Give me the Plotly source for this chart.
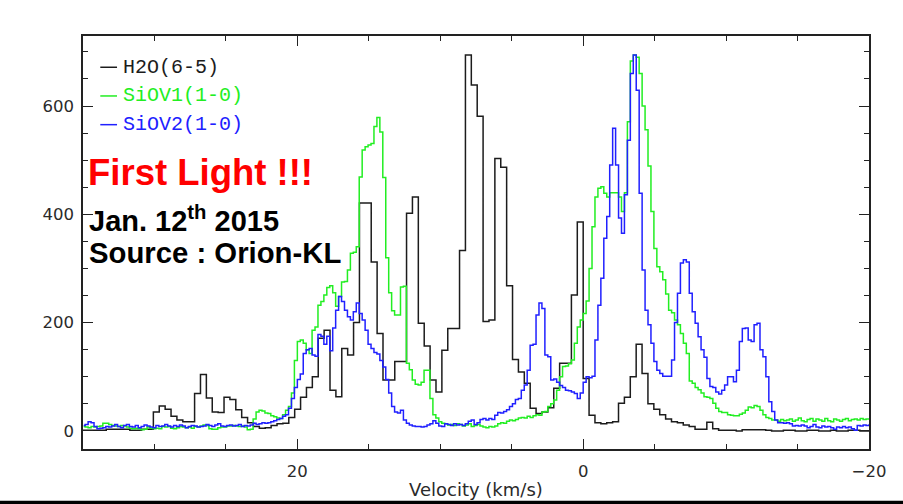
import numpy as np
import plotly.graph_objects as go

# ---------------------------------------------------------------------------
# Orion-KL spectra, 12 Jan 2015. Antenna temperature per channel, listed from
# the highest velocity channel to the lowest.
# ---------------------------------------------------------------------------

# H2O 22 GHz line: 0.412 km/s channels, first channel centred at +35.226 km/s
h2o_vel_start = 35.226
h2o_chan_width = 0.412
h2o_flux = [
    1, 1, 1, 1, 1, 3, 3, 3, 3, 1, 1, 3, 3,
    35, 46, 40, 27, 20, 17, 17, 69, 104, 61,
    35, 34, 62, 58, 39, 25, 15, 8, 5, 6,
    10, 13, 14, 25, 40, 62, 80, 100, 171, 186,
    75, 63, 152, 140, 200, 421, 421, 312, 180, 94,
    94, 128, 128, 402, 432, 199, 157, 94, 72, 149,
    189, 189, 333, 694, 639, 581, 202, 205, 503, 487,
    268, 132, 109, 88, 42, 32, 35, 43, 79, 125,
    125, 251, 386, 97, 29, 15, 13, 15, 17, 51,
    62, 100, 160, 106, 50, 40, 30, 22, 17, 15,
    11, 8, 3, 3, 16, 4, 1, 1, 1, 0,
    2, 2, 2, 2, 1, 0, 0, 1, 1, 0,
    0, 1, 1, 0, 0, 1, 0, 0, 1, 1, 0, 0, 1,
]

# SiO 43 GHz lines: 0.2062 km/s channels, first channel centred at +34.951 km/s
sio_vel_start = 34.951
sio_chan_width = 0.2062
siov1_flux = [
    8, 7, 6, 8, 7, 8, 9, 14, 14, 12,
    10, 9, 8, 10, 9, 7, 5, 4, 5, 4,
    2, 3, 7, 5, 4, 5, 4, 8, 7, 8,
    5, 4, 6, 8, 7, 6, 7, 5, 8, 7,
    9, 11, 10, 4, 3, 3, 6, 7, 7, 9,
    9, 10, 9, 8, 9, 7, 2, 3, 22, 35,
    38, 37, 33, 32, 28, 26, 24, 23, 30, 38,
    45, 70, 130, 165, 168, 162, 150, 143, 186, 192,
    232, 239, 251, 265, 268, 255, 230, 248, 275, 276,
    297, 328, 330, 340, 469, 519, 525, 528, 531, 562,
    579, 552, 468, 320, 255, 222, 214, 214, 266, 267,
    125, 113, 94, 86, 85, 90, 112, 112, 60, 30,
    24, 17, 14, 13, 11, 12, 10, 13, 12, 9,
    11, 13, 8, 10, 12, 9, 7, 6, 8, 7,
    9, 13, 15, 14, 18, 20, 19, 21, 24, 25,
    24, 27, 25, 28, 30, 29, 35, 36, 45, 50,
    57, 75, 100, 119, 120, 124, 131, 162, 192, 205,
    217, 240, 300, 377, 432, 448, 451, 439, 432, 440,
    440, 440, 432, 405, 440, 571, 683, 694, 690, 660,
    600, 556, 489, 405, 337, 303, 294, 279, 253, 223,
    218, 205, 196, 180, 162, 143, 92, 88, 80, 76,
    70, 63, 62, 60, 51, 42, 36, 34, 34, 30,
    29, 28, 28, 31, 33, 38, 44, 43, 47, 45,
    38, 30, 25, 23, 20, 20, 18, 21, 19, 20,
    22, 18, 20, 24, 19, 17, 21, 23, 18, 22,
    20, 18, 23, 19, 17, 22, 20, 18, 21, 23,
    19, 21, 22, 20, 23, 21, 22, 22,
]
siov2_flux = [
    10, 12, 17, 15, 8, 4, 5, 6, 8, 7,
    9, 12, 8, 6, 10, 12, 8, 7, 10, 6,
    8, 11, 9, 7, 6, 10, 8, 9, 12, 9,
    7, 10, 8, 11, 9, 6, 8, 10, 9, 7,
    8, 9, 12, 10, 8, 11, 13, 9, 8, 10,
    11, 9, 10, 12, 8, 10, 9, 11, 14, 12,
    13, 15, 14, 15, 17, 19, 21, 23, 27, 30,
    42, 60, 80, 95, 105, 143, 150, 152, 140, 138,
    178, 175, 160, 175, 148, 190, 223, 248, 239, 223,
    211, 205, 220, 236, 217, 205, 186, 160, 152, 145,
    142, 130, 118, 95, 70, 45, 35, 33, 38, 20,
    14, 11, 9, 8, 8, 7, 8, 11, 13, 19,
    14, 9, 8, 13, 12, 10, 13, 11, 12, 10,
    13, 18, 20, 12, 15, 21, 23, 20, 23, 21,
    29, 34, 33, 36, 39, 45, 50, 58, 60, 75,
    85, 112, 158, 160, 214, 236, 226, 140, 137, 94,
    96, 90, 84, 80, 75, 74, 72, 69, 60, 70,
    90, 100, 98, 101, 168, 232, 282, 356, 396, 491,
    559, 491, 393, 365, 436, 537, 660, 694, 629, 439,
    297, 223, 196, 162, 128, 112, 106, 101, 101, 101,
    131, 200, 254, 310, 316, 312, 254, 220, 199, 174,
    150, 136, 97, 82, 80, 72, 68, 75, 85, 100,
    100, 91, 112, 165, 189, 190, 168, 165, 196, 199,
    150, 137, 100, 54, 36, 20, 15, 15, 14, 15,
    13, 9, 10, 9, 11, 9, 6, 8, 12, 7,
    6, 9, 7, 8, 6, 3, 7, 6, 8, 6,
    7, 4, 1, 10, 9, 11, 10, 11,
]

series_names = ["H2O(6-5)", "SiOV1(1-0)", "SiOV2(1-0)"]
x_tick_vals = [20, 0, -20]
y_tick_vals = [0, 200, 400, 600]
x_title = "Velocity (km/s)"
headline = "First Light !!!"
date_line = "Jan. 12<sup>th</sup> 2015"
source_line = "Source : Orion-KL"

# channel-centre velocity axes
h2o_vel = h2o_vel_start - h2o_chan_width * np.arange(len(h2o_flux))
sio_vel = sio_vel_start - sio_chan_width * np.arange(len(siov1_flux))

colors = ["#1c1c1c", "#22ee22", "#2020ff"]
frame = "#222222"
text_col = "#2a2a2a"

fig = go.Figure()
for vel, flux, name, col in [
    (h2o_vel, h2o_flux, series_names[0], colors[0]),
    (sio_vel, siov1_flux, series_names[1], colors[1]),
    (sio_vel, siov2_flux, series_names[2], colors[2]),
]:
    fig.add_trace(go.Scatter(
        x=vel, y=flux, name=name, mode="lines",
        line=dict(color=col, width=1.5, shape="hvh"),
        showlegend=False, hoverinfo="skip",
    ))

axis_common = dict(
    showgrid=False, zeroline=False,
    showline=True, linecolor=frame, linewidth=1.5, mirror="allticks",
    ticks="inside", ticklen=10, tickwidth=1.4, tickcolor=frame,
    tickfont=dict(family="DejaVu Sans", size=16.5, color=text_col),
)
fig.update_xaxes(
    range=[35, -20], tickvals=x_tick_vals, ticklabelstandoff=6,
    minor=dict(dtick=5, tick0=0, ticks="inside", ticklen=5.5, tickwidth=1.3, tickcolor=frame),
    **axis_common,
)
fig.update_yaxes(
    range=[-33.4, 729.3], tickvals=y_tick_vals, ticklabelstandoff=4,
    minor=dict(dtick=50, tick0=0, ticks="inside", ticklen=5.5, tickwidth=1.3, tickcolor=frame),
    **axis_common,
)

annotations = [
    dict(text=x_title, x=0.5, y=-0.0977, xanchor="center", yanchor="middle",
         font=dict(family="DejaVu Sans", size=18, color=text_col)),
    dict(text="<b>" + headline + "</b>", x=0.0034, y=0.6692, xanchor="left", yanchor="middle",
         font=dict(family="Liberation Sans", size=36.5, color="#ff0000")),
    dict(text="<b>" + date_line + "</b>", x=0.0055, y=0.556, xanchor="left", yanchor="middle",
         font=dict(family="Liberation Sans", size=29, color="#000000")),
    dict(text="<b>" + source_line + "</b>", x=0.0055, y=0.4746, xanchor="left", yanchor="middle",
         font=dict(family="Liberation Sans", size=29.3, color="#000000")),
]

# hand-drawn key in the upper-left corner
key_y = [0.9243, 0.8548, 0.7853]
shapes = []
for name, col, ky in zip(series_names, colors, key_y):
    shapes.append(dict(type="line", xref="paper", yref="paper",
                       x0=0.022, x1=0.0433, y0=ky, y1=ky,
                       line=dict(color=col, width=1.5)))
    annotations.append(dict(text=name, x=0.0487, y=ky, xanchor="left", yanchor="middle",
                            font=dict(family="Liberation Mono", size=20, color=col)))

# dark strip along the bottom edge of the page
shapes.append(dict(type="rect", xref="paper", yref="paper",
                   x0=-0.2, x1=1.2, y0=-0.2, y1=-0.125,
                   fillcolor="#000000", line=dict(width=0), layer="above"))

for a in annotations:
    a.update(xref="paper", yref="paper", showarrow=False)

fig.update_layout(
    width=903, height=504, autosize=False,
    margin=dict(l=83, r=34, t=36, b=55),
    paper_bgcolor="white", plot_bgcolor="white",
    annotations=annotations, shapes=shapes,
)

fig.write_html("out.html", config={"displayModeBar": False},
               post_script="document.body.style.margin='0';")
